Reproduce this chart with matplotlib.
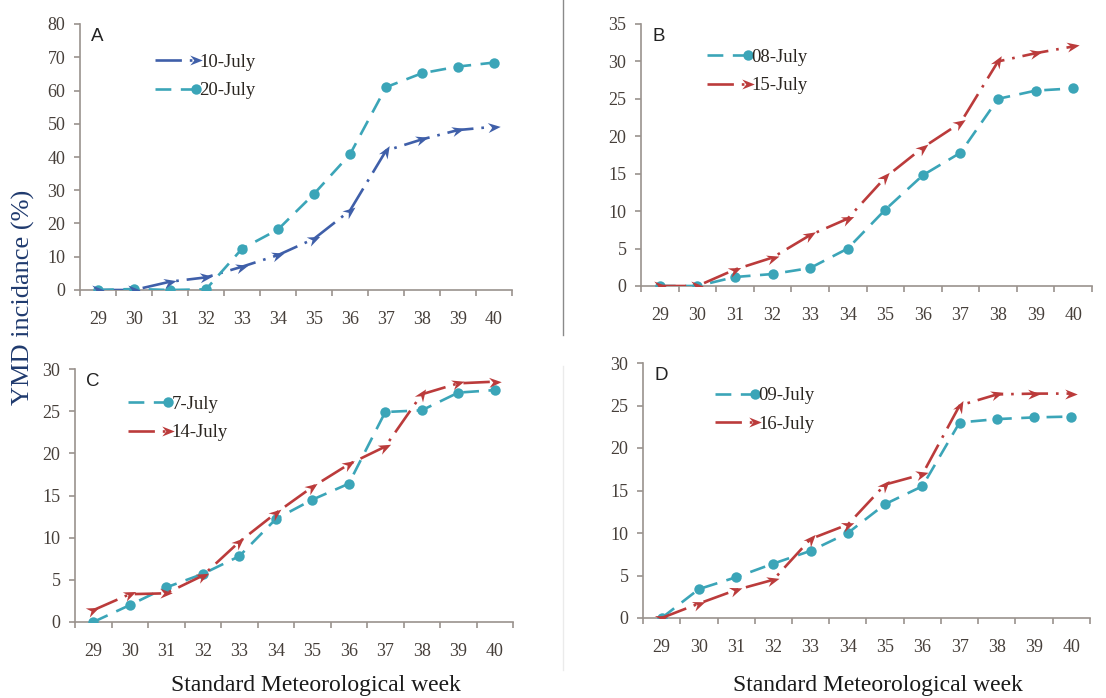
import numpy as np
import matplotlib
matplotlib.use('Agg')
import matplotlib.pyplot as plt
from matplotlib.lines import Line2D
from matplotlib.markers import MarkerStyle
from matplotlib.path import Path
from matplotlib.transforms import Affine2D
from matplotlib.legend_handler import HandlerLine2D

# --- data ---
weeks = ['29', '30', '31', '32', '33', '34', '35', '36', '37', '38', '39', '40']

a_10_july = [0, 0, 2.5, 3.8, 7.0, 10.5, 15.4, 23.9, 41.9, 45.3, 48.1, 49.1]
a_20_july = [0, 0.3, 0, 0.2, 12.4, 18.2, 28.9, 40.8, 61.0, 65.2, 67.2, 68.4]
b_08_july = [0, 0, 1.2, 1.6, 2.4, 5.0, 10.2, 14.8, 17.8, 25.0, 26.1, 26.4]
b_15_july = [0, 0, 2.2, 3.8, 6.8, 9.0, 14.5, 18.5, 21.8, 30.0, 31.1, 32.0]
c_07_july = [0, 2.0, 4.1, 5.7, 7.8, 12.2, 14.5, 16.4, 24.9, 25.1, 27.2, 27.5]
c_14_july = [1.4, 3.3, 3.4, 5.5, 9.5, 12.9, 16.0, 18.7, 20.8, 27.0, 28.3, 28.5]
d_09_july = [0, 3.4, 4.8, 6.4, 7.9, 10.0, 13.4, 15.5, 23.0, 23.4, 23.6, 23.7]
d_16_july = [0, 1.7, 3.3, 4.5, 9.3, 11.0, 15.7, 16.9, 25.0, 26.3, 26.4, 26.4]

# --- style ---
W, H = 1106, 698
BLUE = '#3f5fa9'
TEAL = '#3ba5b8'
RED = '#bb3b3b'
AXC = '#9a928d'
TXT = '#463f3a'
SERIF = 'Liberation Serif'
LW = 1.9
ARROW_LS = (0, (10, 3, 1, 3))
DASH_LS = (0, (6, 3.6))
ARROW_MS = 9

ARROW = Path([(1, 0), (-1, 0.8), (-0.35, 0), (-1, -0.8), (1, 0)],
             [Path.MOVETO, Path.LINETO, Path.LINETO, Path.LINETO, Path.CLOSEPOLY])


def px_rect(left, top, right, bottom):
    return [left / W, (H - bottom) / H, (right - left) / W, (bottom - top) / H]


class EndMarkerHandler(HandlerLine2D):
    # legend handle: line with the marker at its right end (Excel style)
    def create_artists(self, legend, orig_handle, xdescent, ydescent,
                       width, height, fontsize, trans):
        y0 = (height - ydescent) / 2
        line = Line2D([-xdescent, -xdescent + width - 2], [y0, y0])
        self.update_prop(line, orig_handle, legend)
        line.set_markevery([1])
        line.set_transform(trans)
        return [line]


def arrow_series(ax, y, color):
    x = np.arange(len(y))
    ax.plot(x, y, color=color, lw=LW, ls=ARROW_LS, dash_capstyle='butt', zorder=3)
    pts = ax.transData.transform(np.column_stack([x, y]))
    for i in range(len(x)):
        j0, j1 = (i - 1, i) if i > 0 else (0, 1)
        dx, dy = pts[j1] - pts[j0]
        ang = np.degrees(np.arctan2(dy, dx))
        m = MarkerStyle(ARROW, transform=Affine2D().rotate_deg(ang))
        ax.plot(x[i], y[i], ls='none', marker=m, ms=ARROW_MS, color=color,
                markeredgewidth=0, zorder=4)
    return Line2D([], [], color=color, lw=LW, ls=ARROW_LS, dash_capstyle='butt',
                  marker=MarkerStyle(ARROW), ms=ARROW_MS, markeredgewidth=0)


def dot_series(ax, y, color):
    x = np.arange(len(y))
    ax.plot(x, y, color=color, lw=LW, ls=DASH_LS, dash_capstyle='butt',
            marker='o', ms=7.5, markeredgewidth=0, zorder=3)
    return Line2D([], [], color=color, lw=LW, ls=DASH_LS, dash_capstyle='butt',
                  marker='o', ms=7.5, markeredgewidth=0)


def setup_axes(rect, ymax, ystep, letter):
    ax = fig.add_axes(rect)
    ax.set_xlim(-0.5, len(weeks) - 0.5)
    ax.set_ylim(0, ymax)
    for s in ['top', 'right']:
        ax.spines[s].set_visible(False)
    for s in ['left', 'bottom']:
        ax.spines[s].set_color(AXC)
        ax.spines[s].set_linewidth(1.2)
    ax.set_xticks(range(len(weeks)))
    ax.set_xticklabels(weeks)
    ax.set_xticks(np.arange(-0.5, len(weeks), 1), minor=True)
    ax.tick_params(axis='x', which='major', length=0, pad=15,
                   labelsize=13, labelcolor=TXT)
    ax.tick_params(axis='x', which='minor', length=4, width=1.2, color=AXC,
                   direction='out')
    ax.set_yticks(np.arange(0, ymax + 1, ystep))
    ax.tick_params(axis='y', length=4.5, width=1.2, color=AXC, pad=6,
                   labelsize=13, labelcolor=TXT)
    for lab in ax.get_xticklabels() + ax.get_yticklabels():
        lab.set_fontfamily(SERIF)
    ax.text(0.025, 0.985, letter, transform=ax.transAxes, ha='left', va='top',
            fontsize=13.5, family='Liberation Sans', color='#222222')
    return ax


def add_legend(ax, handles, labels, anchor):
    ax.legend(handles, labels, handler_map={Line2D: EndMarkerHandler()},
              loc='upper left', bbox_to_anchor=anchor, frameon=False,
              handlelength=2.3, handletextpad=0.05, labelspacing=0.6,
              borderaxespad=0, borderpad=0,
              prop={'family': SERIF, 'size': 13.5}, labelcolor='#2a2520')


fig = plt.figure(figsize=(W / 100, H / 100), dpi=100)

# panel A
axA = setup_axes(px_rect(80, 24, 512, 290), 80, 10, 'A')
hA1 = arrow_series(axA, a_10_july, BLUE)
hA2 = dot_series(axA, a_20_july, TEAL)
add_legend(axA, [hA1, hA2], ['10-July', '20-July'], (0.174, 0.888))

# panel B
axB = setup_axes(px_rect(641, 24, 1092, 286), 35, 5, 'B')
hB1 = dot_series(axB, b_08_july, TEAL)
hB2 = arrow_series(axB, b_15_july, RED)
add_legend(axB, [hB1, hB2], ['08-July', '15-July'], (0.147, 0.905))

# panel C
axC = setup_axes(px_rect(75, 369, 513, 622), 30, 5, 'C')
hC1 = dot_series(axC, c_07_july, TEAL)
hC2 = arrow_series(axC, c_14_july, RED)
add_legend(axC, [hC1, hC2], ['7-July', '14-July'], (0.12, 0.895))

# panel D
axD = setup_axes(px_rect(643, 363, 1090, 618), 30, 5, 'D')
hD1 = dot_series(axD, d_09_july, TEAL)
hD2 = arrow_series(axD, d_16_july, RED)
add_legend(axD, [hD1, hD2], ['09-July', '16-July'], (0.16, 0.905))

# shared labels
fig.text(23 / W, 1 - 297 / H, 'YMD incidance (%)', rotation=90, ha='center',
         va='center', fontsize=19, family=SERIF, color='#1f3a6e')
fig.text(316 / W, 1 - 685 / H, 'Standard Meteorological week', ha='center',
         va='center', fontsize=17, family=SERIF, color='#1a1a1a')
fig.text(878 / W, 1 - 685 / H, 'Standard Meteorological week', ha='center',
         va='center', fontsize=17, family=SERIF, color='#1a1a1a')

# panel separators
fig.add_artist(Line2D([563 / W, 563 / W], [1, 1 - 335 / H], color='#8a8a8a', lw=1))
fig.add_artist(Line2D([563 / W, 563 / W], [1 - 366 / H, 1 - 670 / H], color='#ebebeb', lw=1))

fig.savefig('out.png', dpi=100)
